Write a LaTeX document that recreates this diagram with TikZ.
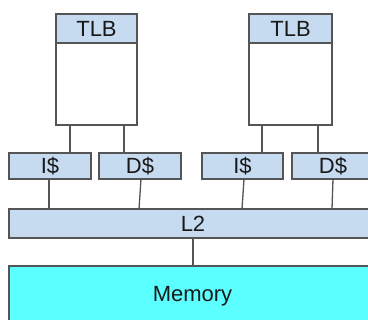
\documentclass[tikz,border=0pt]{standalone}
\usepackage{fontspec}
\setmainfont{Liberation Sans}
\definecolor{boxblue}{HTML}{C6DAF0}
\definecolor{memcyan}{HTML}{5CFFFF}
\definecolor{edge}{HTML}{555555}
\begin{document}
\begin{tikzpicture}[x=1pt,y=-1pt,
  blk/.style={draw=edge,line width=1.3pt,fill=boxblue,anchor=north west,inner sep=0pt,outer sep=0pt,font=\fontsize{22}{23}\selectfont,text=black!90},
  body/.style={draw=edge,line width=1.3pt,fill=white,anchor=north west,inner sep=0pt,outer sep=0pt},
  wire/.style={draw=edge,line width=1.3pt}]
\useasboundingbox (0,0) rectangle (368,320);
\clip (0,0) rectangle (368,320);
% TLBs
\node[body,minimum width=81pt,minimum height=82pt] (b1) at (56,43) {};
\node[blk,minimum width=81pt,minimum height=29pt] (t1) at (56,14) {TLB};
\node[body,minimum width=83pt,minimum height=82pt] (b2) at (249,43) {};
\node[blk,minimum width=83pt,minimum height=29pt] (t2) at (249,14) {TLB};
% L1 caches
\node[blk,minimum width=82pt,minimum height=26pt] (i1) at (9,153) {I\$};
\node[blk,minimum width=82pt,minimum height=26pt] (d1) at (99,153) {D\$};
\node[blk,minimum width=81pt,minimum height=26pt] (i2) at (202,153) {I\$};
\node[blk,minimum width=82pt,minimum height=26pt] (d2) at (292,153) {D\$};
% L2
\node[blk,minimum width=368pt,minimum height=29pt] (l2) at (9,209) {L2};
% Memory
\node[blk,fill=memcyan,minimum width=367pt,minimum height=60pt] (mem) at (9,266) {Memory};
% connectors
\draw[wire] ([xshift=14pt]b1.south west) -- ([xshift=61pt]i1.north west);
\draw[wire] ([xshift=68pt]b1.south west) -- ([xshift=25pt]d1.north west);
\draw[wire] ([xshift=13pt]b2.south west) -- ([xshift=60pt]i2.north west);
\draw[wire] ([xshift=69pt]b2.south west) -- ([xshift=26pt]d2.north west);
\draw[wire] ([xshift=40pt]i1.south west) -- ([xshift=40pt]l2.north west);
\draw[wire] ([xshift=42pt]d1.south west) -- ([xshift=130pt]l2.north west);
\draw[wire] ([xshift=42pt]i2.south west) -- ([xshift=233pt]l2.north west);
\draw[wire] ([xshift=41pt]d2.south west) -- ([xshift=323pt]l2.north west);
\draw[wire] ([xshift=184pt]l2.south west) -- ([xshift=184pt]mem.north west);
\end{tikzpicture}
\end{document}
